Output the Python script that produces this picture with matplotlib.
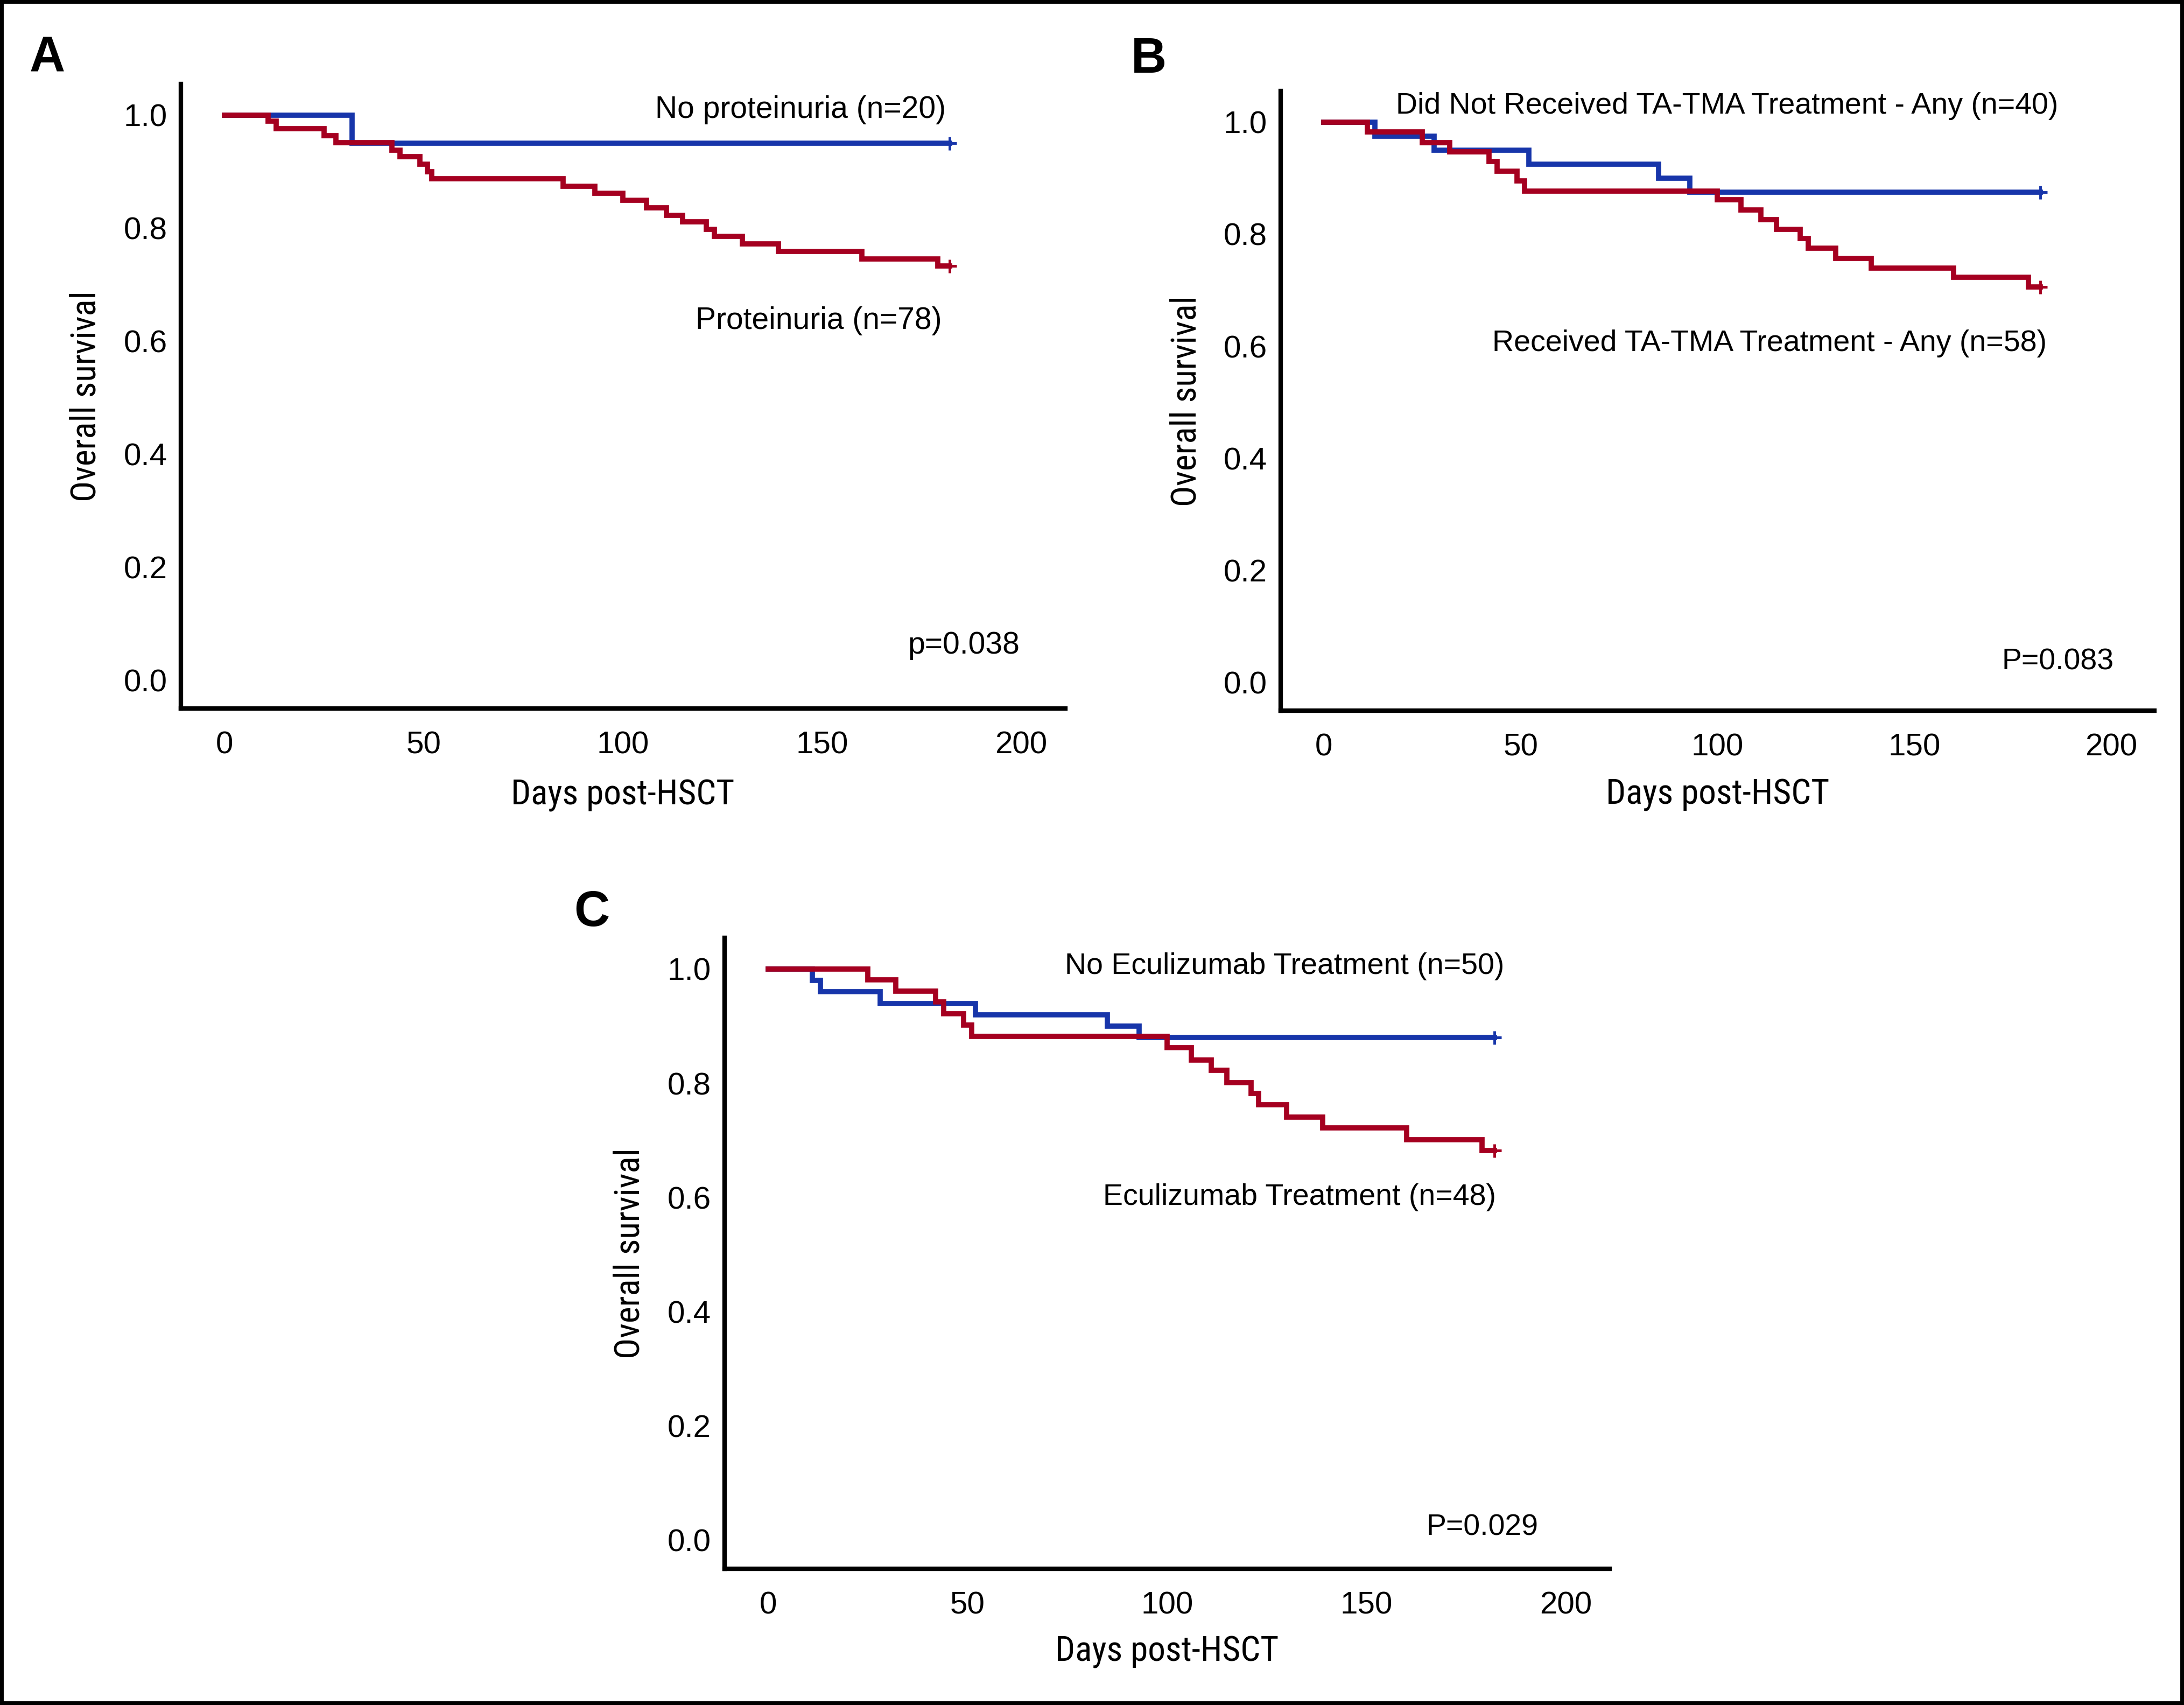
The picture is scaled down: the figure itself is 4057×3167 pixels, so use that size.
#!/usr/bin/env python
#
# Kaplan-Meier overall survival curves, three panels (A, B, C).

import matplotlib
matplotlib.use('Agg')
import matplotlib.pyplot as plt
from matplotlib.patches import Rectangle

plt.rcParams['font.family'] = ['Liberation Sans', 'DejaVu Sans']

# DATA
# Step times in days post-HSCT and survival after each step.

# Panel A
a_blue_t = [0, 32]
a_blue_s = [1.0, 0.95]
a_red_t = [0, 11, 13, 25, 28, 42, 44, 49, 51, 52, 85, 93, 100, 106, 111,
           115, 121, 123, 130, 139, 160, 179]
a_red_s = [1.0, 0.989, 0.976, 0.963, 0.951, 0.938, 0.926, 0.913, 0.900,
           0.887, 0.874, 0.861, 0.849, 0.836, 0.822, 0.811, 0.798, 0.785,
           0.772, 0.759, 0.745, 0.733]

# Panel B
b_blue_t = [0, 13, 28, 52, 85, 93]
b_blue_s = [1.0, 0.975, 0.95, 0.925, 0.90, 0.875]
b_red_t = [0, 11, 25, 32, 42, 44, 49, 51, 100, 106, 111, 115, 121, 123,
           130, 139, 160, 179]
b_red_s = [1.0, 0.982, 0.963, 0.947, 0.930, 0.912, 0.895, 0.877, 0.861,
           0.843, 0.826, 0.809, 0.792, 0.775, 0.757, 0.739, 0.723, 0.706]

# Panel C
c_blue_t = [0, 11, 13, 28, 52, 85, 93]
c_blue_s = [1.0, 0.98, 0.96, 0.94, 0.92, 0.90, 0.88]
c_red_t = [0, 25, 32, 42, 44, 49, 51, 100, 106, 111, 115, 121, 123, 130,
           139, 160, 179]
c_red_s = [1.0, 0.981, 0.961, 0.942, 0.922, 0.902, 0.882, 0.862, 0.841,
           0.823, 0.801, 0.782, 0.762, 0.741, 0.722, 0.701, 0.682]

end_day = 182

x_ticks = [0, 50, 100, 150, 200]
y_ticks = [0.0, 0.2, 0.4, 0.6, 0.8, 1.0]

a_labels = ['No proteinuria (n=20)', 'Proteinuria (n=78)', 'p=0.038']
b_labels = ['Did Not Received TA-TMA Treatment - Any (n=40)',
            'Received TA-TMA Treatment - Any (n=58)', 'P=0.083']
c_labels = ['No Eculizumab Treatment (n=50)', 'Eculizumab Treatment (n=48)',
            'P=0.029']

red = '#a50020'
blue = '#1735aa'
narrow = ['Liberation Sans Narrow', 'Roboto Condensed', 'DejaVu Sans']

fig = plt.figure(figsize=(40.57, 31.67), dpi=100)


def draw_panel(rect, blue_t, blue_s, red_t, red_s, labels, label_pos,
               xlab_y, ylab_x, text_size=41):
    ax = fig.add_axes(rect)
    # extend each curve to the last follow-up day, censor mark at the end
    for t, s, c in [(blue_t, blue_s, blue), (red_t, red_s, red)]:
        ax.step(t + [end_day], s + [s[-1]], where='post', color=c, lw=7,
                solid_joinstyle='miter')
        ax.plot([end_day], [s[-1]], marker='+', color=c, ms=18, mew=3.5)

    ax.set_xlim(-11, 211)
    ax.set_ylim(-0.05, 1.055)
    ax.set_xticks(x_ticks)
    ax.set_yticks(y_ticks)
    ax.set_yticklabels(['%.1f' % v for v in y_ticks])
    ax.tick_params(axis='x', length=0, pad=30, labelsize=42)
    ax.tick_params(axis='y', length=0, pad=18, labelsize=42)

    for side in ['top', 'right']:
        ax.spines[side].set_visible(False)
    for side in ['left', 'bottom']:
        ax.spines[side].set_linewidth(6)

    for txt, (x, y) in zip(labels, label_pos):
        ax.text(x, y, txt, ha='right', va='center', fontsize=text_size)

    ax.set_xlabel('Days post-HSCT', family=narrow, fontstretch='condensed',
                  fontsize=47, va='center')
    ax.xaxis.set_label_coords(0.5, xlab_y)
    ax.set_ylabel('Overall survival', family=narrow, fontstretch='condensed',
                  fontsize=47, va='center')
    ax.yaxis.set_label_coords(ylab_x, 0.5)
    return ax


draw_panel([0.0827, 0.5845, 0.405, 0.3663], a_blue_t, a_blue_s, a_red_t,
           a_red_s, a_labels, [(181, 1.009), (180, 0.636), (199.6, 0.061)],
           -0.139, -0.107)
draw_panel([0.5864, 0.5832, 0.400, 0.3633], b_blue_t, b_blue_s, b_red_t,
           b_red_s, b_labels, [(186.6, 1.029), (183.7, 0.605), (200.7, 0.037)],
           -0.136, -0.108, text_size=40)
draw_panel([0.3317, 0.0799, 0.4054, 0.3702], c_blue_t, c_blue_s, c_red_t,
           c_red_s, c_labels, [(184.6, 1.005), (182.5, 0.600), (193, 0.022)],
           -0.131, -0.107, text_size=40)

# Panel letters
for letter, x, y in [('A', 0.0136, 0.9583), ('B', 0.5179, 0.9575),
                     ('C', 0.2628, 0.457)]:
    fig.text(x, y, letter, ha='left', va='baseline', fontsize=66,
             fontweight='bold')

# Black frame round the whole figure
fig.patches.append(Rectangle((0, 0), 1, 1, transform=fig.transFigure,
                             fill=False, edgecolor='black', lw=10))

plt.savefig('out.png', dpi=100)
